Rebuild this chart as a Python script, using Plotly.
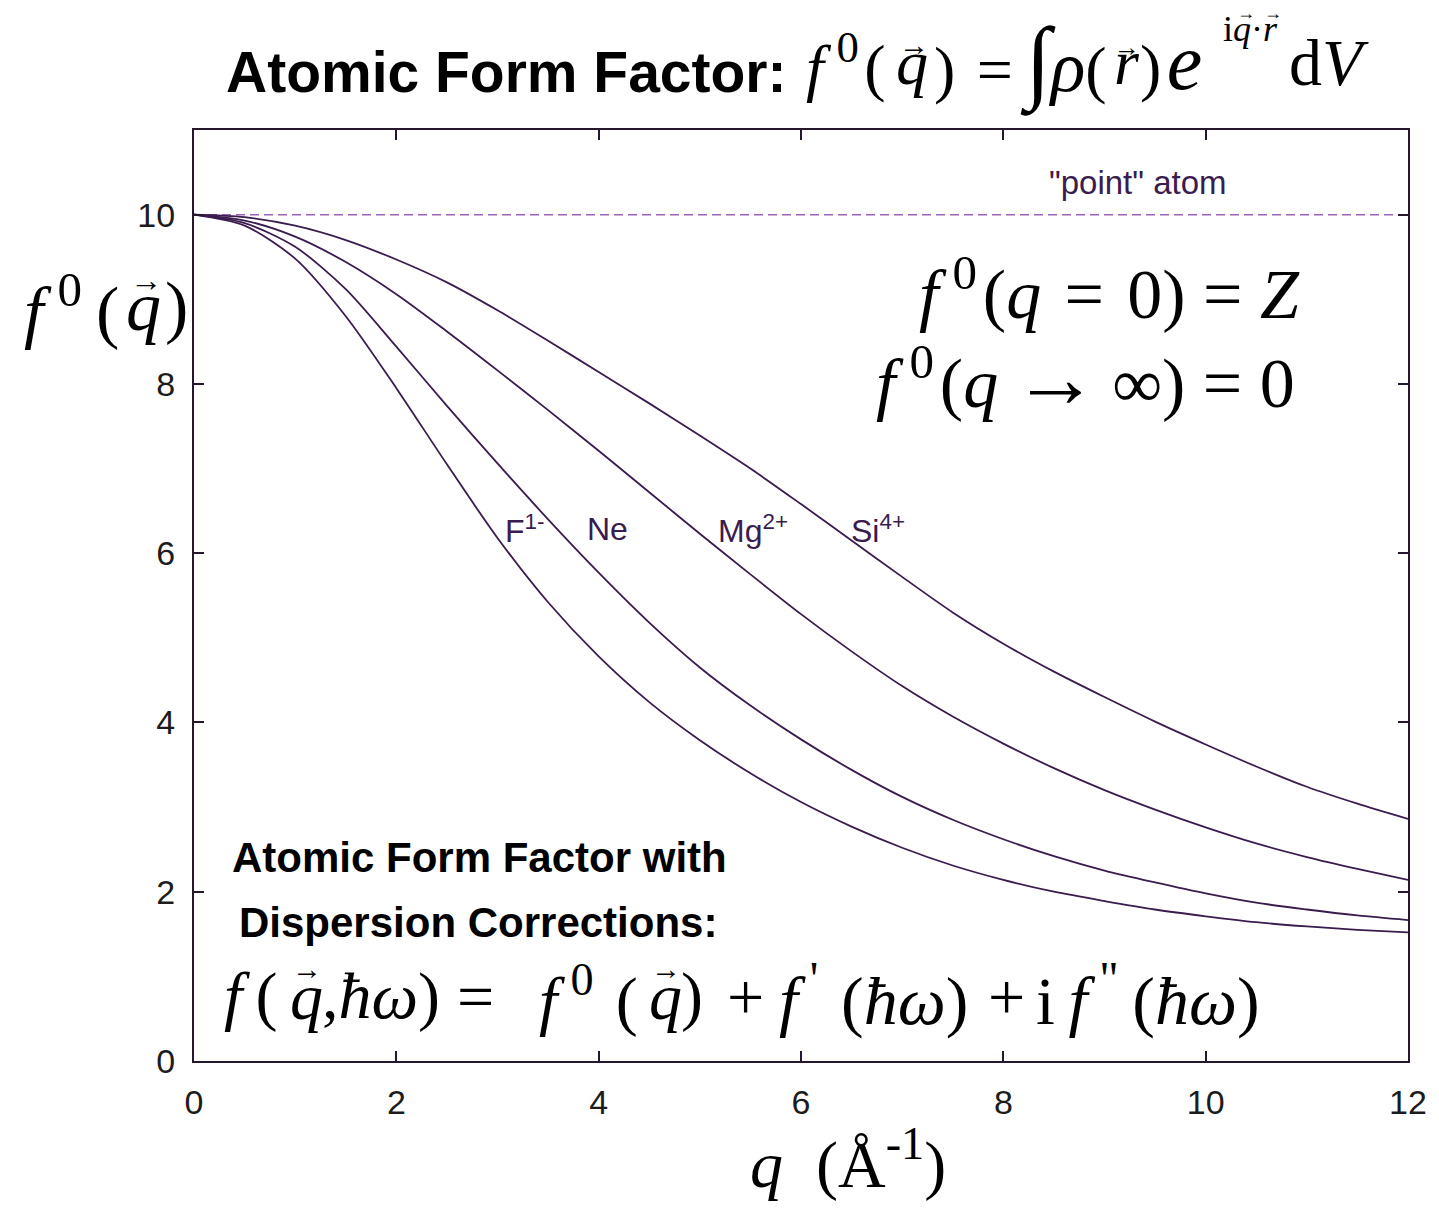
import plotly.graph_objects as go

# Scattering vector magnitude q (1/Angstrom)
q = [0.0, 0.5, 1.0, 1.5, 2.0, 2.5, 3.0, 3.5, 4.0, 4.5, 5.0, 5.5, 6.0,
     6.5, 7.0, 7.5, 8.0, 8.5, 9.0, 9.5, 10.0, 10.5, 11.0, 11.5, 12.0]

# Atomic form factors f0(q) for the 10-electron ions/atom
f_F = [10.0, 9.87, 9.48, 8.80, 7.95, 7.05, 6.18, 5.42, 4.78, 4.24, 3.79, 3.40, 3.06,
       2.77, 2.52, 2.31, 2.14, 2.00, 1.89, 1.79, 1.71, 1.64, 1.59, 1.55, 1.52]
f_Ne = [10.0, 9.90, 9.62, 9.12, 8.44, 7.74, 7.06, 6.40, 5.77, 5.18, 4.65, 4.20, 3.80,
        3.44, 3.12, 2.85, 2.62, 2.42, 2.25, 2.11, 1.98, 1.87, 1.79, 1.72, 1.665]
f_Mg = [10.0, 9.93, 9.74, 9.44, 9.06, 8.62, 8.16, 7.69, 7.21, 6.72, 6.23, 5.75, 5.28,
        4.84, 4.43, 4.07, 3.75, 3.46, 3.20, 2.97, 2.76, 2.57, 2.41, 2.27, 2.14]
f_Si = [10.0, 9.97, 9.87, 9.70, 9.47, 9.20, 8.87, 8.51, 8.14, 7.77, 7.39, 7.00, 6.58,
        6.15, 5.72, 5.30, 4.93, 4.60, 4.30, 4.01, 3.74, 3.48, 3.24, 3.04, 2.86]

# "point" atom limit: f0 = Z for all q
q_point = [0.0, 12.0]
f_point = [10.0, 10.0]

species = ["F<sup>1-</sup>", "Ne", "Mg<sup>2+</sup>", "Si<sup>4+</sup>"]
label_q = [3.05, 3.86, 5.16, 6.47]
label_f = [6.29, 6.29, 6.29, 6.29]

x_ticks = [0, 2, 4, 6, 8, 10, 12]
y_ticks = [0, 2, 4, 6, 8, 10]

CURVE = "#3a1c4e"
DASH = "#9d62b8"
FRAME = "#24172e"
SANS = "Liberation Sans Narrow, Liberation Sans, Arial, sans-serif"
SERIF = "Liberation Serif, Times New Roman, serif"

W, H = 1439, 1211
L, R, T, B = 194, 1411, 130, 1061


def px(x):
    return (x - L) / (R - L)


def py(y):
    return (B - y) / (B - T)


fig = go.Figure()

fig.add_trace(go.Scatter(x=q_point, y=f_point, mode="lines",
                         line=dict(color=DASH, width=1.5, dash="9px,5px"),
                         hoverinfo="skip"))

for ys in (f_F, f_Ne, f_Mg, f_Si):
    fig.add_trace(go.Scatter(x=q, y=ys, mode="lines",
                             line=dict(color=CURVE, width=1.8, shape="spline", smoothing=0.8)))

axis_common = dict(
    showline=True, linecolor=FRAME, linewidth=2, mirror="allticks",
    ticks="inside", ticklen=10, tickwidth=2, tickcolor=FRAME,
    showgrid=False, zeroline=False,
    tickfont=dict(family=SANS, size=34, color="#1c1c1c"),
)

fig.update_xaxes(range=[0, 12], tickvals=x_ticks, ticklabelstandoff=10, **axis_common)
fig.update_yaxes(range=[0, 11], tickvals=y_ticks, ticklabelstandoff=10, **axis_common)

ann = []


def seg(x, y, text, size, family=SERIF, xanchor="left", color="#000000"):
    ann.append(dict(x=px(x), y=py(y), xref="paper", yref="paper", text=text,
                    showarrow=False, xanchor=xanchor, yanchor="middle",
                    font=dict(family=family, size=size, color=color)))


def vec(x, y, size):
    # vector arrow drawn above a symbol
    seg(x, y, "\u2192", size, xanchor="center")


# curve labels
for name, xq, yf in zip(species, label_q, label_f):
    ann.append(dict(x=xq, y=yf, xref="x", yref="y", text=name, showarrow=False,
                    xanchor="left", yanchor="middle",
                    font=dict(family=SANS, size=32, color=CURVE)))

ann.append(dict(x=9.33, y=10.38, xref="x", yref="y", text='"point" atom', showarrow=False,
                xanchor="center", yanchor="middle",
                font=dict(family=SANS, size=33, color=CURVE)))

TS = "\u2009"   # thin space
HS = "\u200a"   # hair space
MS = "\u2004"   # three-per-em space

# ---- title ----
seg(790, 72, "<b>Atomic Form Factor:</b>", 57, family=SANS, xanchor="right")
seg(806, 62, "<i>f</i>" + TS + "<sup>0</sup>" + HS + "(", 64)
seg(896, 62, "<i>q</i>", 64)
vec(916, 45, 30)
seg(934, 62, ")" + MS + "=" + TS + "<span style='font-size:92px'>\u222b</span>"
    + "<span style='font-size:72px'><i>\u03c1</i></span>(", 64)
seg(1114, 62, "<i>r</i>", 64)
vec(1129, 47, 26)
seg(1140, 62, ")" + HS + "<span style='font-size:80px'><i>e</i></span>", 64)
seg(1224, 29, "i<i>q</i>\u00b7<i>r</i>", 36)
vec(1249, 13, 18)
vec(1276, 13, 18)
seg(1290, 62, "d<i>V</i>", 66)

# ---- y-axis title: f0(q) ----
seg(22, 306, "<i>f</i>" + TS + "<sup>0</sup>" + TS + "(", 70)
seg(124, 306, "<i>q</i>", 70)
seg(163, 306, ")", 70)
vec(146, 280, 32)

# ---- x-axis title: q (1/A) ----
seg(850, 1160, "<i>q</i>" + "\u2002" + "(\u00c5<sup>-1</sup>)", 66, xanchor="center")

# ---- limits ----
seg(1305, 289, "<i>f</i>" + TS + "<sup>0</sup>" + HS + "(<i>q</i> " + HS + "=" + HS
    + " 0) = <i>Z</i>", 70, xanchor="right")
seg(1300, 378, "<i>f</i>" + TS + "<sup>0</sup>" + HS + "(<i>q</i>" + TS
    + "<span style='font-size:86px'>\u2192</span>" + TS + "\u221e) = 0", 70, xanchor="right")

# ---- dispersion corrections ----
seg(230, 857, "<b>Atomic Form Factor with</b>", 42, family=SANS)
seg(237, 922, "<b>Dispersion Corrections:</b>", 42, family=SANS)
seg(222, 996, "<i>f</i>" + TS + "(", 66)
seg(288, 996, "<i>q</i>", 66)
vec(307, 968, 30)
seg(320, 996, ",<i>\u0127\u03c9</i>)", 66)
seg(456, 996, "=", 66)
seg(538, 996, "<i>f</i>" + TS + "<sup>0</sup>" + MS + "(", 66)
seg(648, 996, "<i>q</i>", 66)
vec(667, 968, 30)
seg(680, 996, ")", 66)
seg(726, 996, "+", 66)
seg(778, 996, "<i>f</i><sup> '</sup>" + MS + "(<i>\u0127\u03c9</i>)", 68)
seg(988, 996, "+", 66)
seg(1036, 996, "i" + TS + "<i>f</i><sup> \"</sup>" + TS + "(<i>\u0127\u03c9</i>)", 68)

fig.update_layout(
    width=W, height=H,
    margin=dict(l=L, r=W - R, t=T, b=H - B),
    paper_bgcolor="white", plot_bgcolor="white",
    showlegend=False,
    annotations=ann,
)

fig.write_html("out.html")
